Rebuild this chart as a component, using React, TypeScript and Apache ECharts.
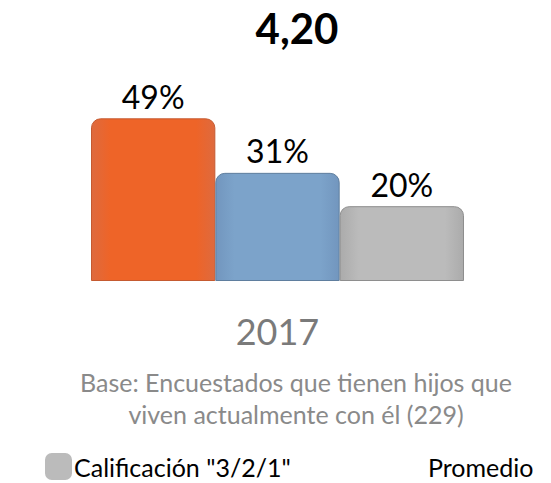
import React, { useEffect, useRef } from "react";
import * as echarts from "echarts";

// ---- data ----
const categories = ["2017"];
const seriesNames = ['Calificación "5"', 'Calificación "4"', 'Calificación "3/2/1"'];
const seriesValues = [49, 31, 20];
const legendShown = ['Calificación "3/2/1"'];
const promedioName = "Promedio";
const promedioValue = 4.2;
const baseNote = ["Base: Encuestados que tienen hijos que", "viven actualmente con él (229)"];

// ---- styles ----
const FONT = "Lato, 'Open Sans', sans-serif";
const barStyles = [
  { edge: "#DE6A3E", mid: "#EE6428", border: "#C55A30" },
  { edge: "#7296BE", mid: "#7CA3CA", border: "#5F7E9E" },
  { edge: "#ABABAB", mid: "#BBBBBB", border: "#8E8E8E" },
];

export default function App() {
  const ref = useRef<HTMLDivElement>(null);
  useEffect(() => {
    if (!ref.current) return;
    const chart = echarts.init(ref.current, undefined, { renderer: "svg" });
    const barSeries = seriesNames.map((name, i) => ({
      type: "bar",
      name,
      data: [seriesValues[i]],
      barGap: "0%",
      barCategoryGap: "0%",
      itemStyle: {
        color: new echarts.graphic.LinearGradient(0, 0, 1, 0, [
          { offset: 0, color: barStyles[i].edge },
          { offset: 0.15, color: barStyles[i].mid },
          { offset: 0.85, color: barStyles[i].mid },
          { offset: 1, color: barStyles[i].edge },
        ]),
        borderColor: barStyles[i].border,
        borderWidth: 1,
        borderRadius: [9, 9, 0, 0],
      },
      label: {
        show: true,
        position: "top",
        distance: 6,
        formatter: "{c}%",
        fontFamily: FONT,
        fontSize: 32,
        color: "#000",
      },
    }));
    chart.setOption({
      animation: false,
      backgroundColor: "#fff",
      grid: { left: 91, right: 87, top: 85, bottom: 202 },
      xAxis: {
        type: "category",
        data: categories,
        axisLine: { show: false },
        axisTick: { show: false },
        axisLabel: { fontFamily: FONT, fontSize: 36, color: "#7a7a7a", margin: 32 },
      },
      yAxis: { type: "value", min: -4.7, max: 60, startValue: -4.7, show: false },
      legend: [
        {
          data: legendShown.map((n) => ({ name: n, itemStyle: { color: "#BBBBBB", borderWidth: 0 } })),
          left: 40,
          top: 448,
          icon: "roundRect",
          itemWidth: 27,
          itemHeight: 27,
          selectedMode: false,
          textStyle: { fontFamily: FONT, fontSize: 25, color: "#000", padding: [0, 0, 0, -3] },
        },
        {
          data: [{ name: promedioName, icon: "none" }],
          left: 418,
          top: 448,
          itemWidth: 0,
          itemHeight: 27,
          selectedMode: false,
          textStyle: { fontFamily: FONT, fontSize: 25, color: "#000" },
        },
      ],
      graphic: [
        {
          type: "text",
          x: 297,
          y: 28,
          style: {
            text: promedioValue.toFixed(2).replace(".", ","),
            font: `bold 42px ${FONT}`,
            fill: "#000",
            align: "center",
            verticalAlign: "middle",
            textAlign: "center",
            textVerticalAlign: "middle",
          },
        },
        {
          type: "text",
          x: 296,
          y: 398,
          style: {
            text: baseNote.join("\n"),
            font: `25px ${FONT}`,
            lineHeight: 32,
            fill: "#8a8a8a",
            align: "center",
            verticalAlign: "middle",
            textAlign: "center",
            textVerticalAlign: "middle",
          },
        },
      ],
      series: [
        ...barSeries,
        { type: "line", name: promedioName, data: [], symbol: "none" },
      ],
    });
    return () => chart.dispose();
  }, []);
  return <div ref={ref} style={{ position: "fixed", left: 0, top: 0, width: 551, height: 483 }} />;
}
